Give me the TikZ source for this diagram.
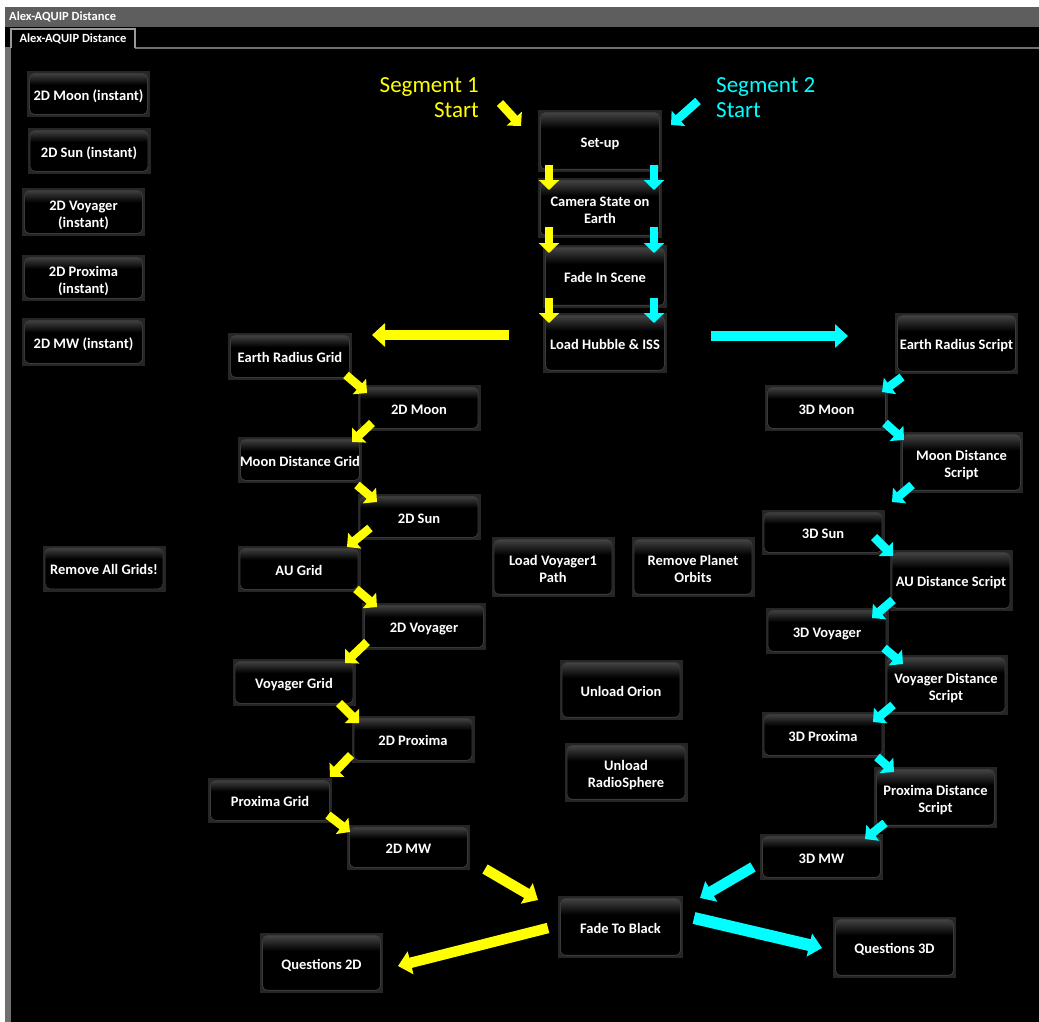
\documentclass[tikz,border=0pt]{standalone}
\usepackage{fontspec}
\setmainfont{Carlito}
\usetikzlibrary{arrows.meta}

\definecolor{ylw}{HTML}{FFFF00}
\definecolor{cyn}{HTML}{00FFFF}
\definecolor{titlebar}{HTML}{5E5E5E}
\definecolor{sidebar}{HTML}{707070}
\definecolor{btnframe}{HTML}{262626}
\definecolor{btntop}{HTML}{4E4E4E}
\definecolor{btnbot}{HTML}{2C2C2C}
\definecolor{btnrim}{HTML}{3A3A3A}

% glossy button face: light at the top, black in the middle, faint glow at the bottom
\pgfdeclareverticalshading{btnshade}{100bp}{color(0bp)=(btnbot); color(25bp)=(btnbot); color(29bp)=(black); color(60bp)=(black); color(75bp)=(btntop); color(100bp)=(btntop)}

\tikzset{
  btn/.style={fill=btnframe, minimum width=123, minimum height=46, inner sep=0pt,
    align=center, text=white, font=\bfseries\fontsize{14.5}{17}\selectfont,
    % fixed text box: the caption sits a little below the middle
    text height=16.5pt, text depth=4pt,
    path picture={
      \shade[shading=btnshade, draw=btnrim, line width=0.8pt, rounded corners=5pt]
        ([shift={(2.5pt,-2.5pt)}]path picture bounding box.north west) rectangle
        ([shift={(-2.5pt,2.5pt)}]path picture bounding box.south east);
    }},
  btntwo/.style={btn, minimum height=60, text height=30.5pt, text depth=0pt},
  ysmall/.style={draw=ylw, line width=8.5pt, -{Triangle[width=20pt,length=10pt]}},
  csmall/.style={draw=cyn, line width=8.5pt, -{Triangle[width=20pt,length=10pt]}},
  ybig/.style={draw=ylw, line width=10.5pt, -{Triangle[width=23pt,length=13pt]}},
  cbig/.style={draw=cyn, line width=10.5pt, -{Triangle[width=23pt,length=13pt]}},
  seglabel/.style={font=\fontsize{23}{25}\selectfont, inner sep=0pt},
}

\begin{document}
\begin{tikzpicture}[x=1pt,y=-1pt]
\useasboundingbox (0,0) rectangle (1039,1022);
% window frame
\fill[white] (0,0) rectangle (1039,1022);
\fill[titlebar] (5,7) rectangle (1039,27);
\fill[black] (5,27) rectangle (1039,1022);
\fill[sidebar] (5,47) rectangle (11,1022);
\draw[sidebar, line width=2pt] (135,48) -- (1039,48);
\draw[gray!80, line width=1.2pt, fill=black] (11,48) -- (11,29) -- (135,29) -- (135,48);
\node[anchor=west, text=white, font=\bfseries\fontsize{12.5}{14}\selectfont, inner sep=0pt] (wintitle) at (9,17) {Alex-AQUIP Distance};
\node[text=white, font=\bfseries\fontsize{12.5}{14}\selectfont, inner sep=0pt] (tabtitle) at (73,39) {Alex-AQUIP Distance};

% instant buttons and grid removal
\node[btn] (moonI) at (88.5,94) {2D Moon (instant)};
\node[btn] (sunI) at (89,151) {2D Sun (instant)};
\node[btntwo, minimum height=48] (voyI) at (83.5,212) {2D Voyager\\(instant)};
\node[btntwo, minimum height=46] (proxI) at (83.5,278) {2D Proxima\\(instant)};
\node[btn, minimum height=48] (mwI) at (83.5,342) {2D MW (instant)};
\node[btn] (rmGrids) at (104,568.5) {Remove All Grids!};

% segment labels
\node[seglabel, text=ylw, align=right, anchor=east] (seg1) at (479,98) {Segment 1\\Start};
\node[seglabel, text=cyn, align=left, anchor=west] (seg2) at (716,98) {Segment 2\\Start};

% shared start-up chain
\node[btn, minimum height=62, minimum width=124] (setup) at (600,141) {Set-up};
\node[btntwo, minimum width=124] (cam) at (600,208) {Camera State on\\Earth};
\node[btn, minimum height=63, minimum width=124] (fis) at (605,276.5) {Fade In Scene};
\node[btn, minimum height=60, minimum width=124] (lhi) at (605,343) {Load Hubble \& ISS};

% segment 1 (2D) chain
\node[btn, minimum width=124, minimum height=47] (erg) at (290,356.5) {Earth Radius Grid};
\node[btn] (m2d) at (419,408) {2D Moon};
\node[btn, minimum width=124] (mdg) at (300,460) {Moon Distance Grid};
\node[btn] (s2d) at (419,517) {2D Sun};
\node[btn] (aug) at (299,569) {AU Grid};
\node[btn, minimum width=124, minimum height=47] (v2d) at (424,626.5) {2D Voyager};
\node[btn, minimum height=47] (vg) at (294,682.5) {Voyager Grid};
\node[btn, minimum height=47] (p2d) at (413,739.5) {2D Proxima};
\node[btn, minimum width=124, minimum height=45] (pg) at (270,800.5) {Proxima Grid};
\node[btn, minimum height=45] (mw2d) at (408.5,847.5) {2D MW};
\node[btn, minimum height=60] (q2d) at (321.5,963) {Questions 2D};

% free-standing middle buttons
\node[btntwo] (lv1) at (553,567) {Load Voyager1\\Path};
\node[btntwo] (rpo) at (693,567) {Remove Planet\\Orbits};
\node[btn, minimum height=60] (uo) at (621,690) {Unload Orion};
\node[btntwo, minimum height=59] (urs) at (626,772.5) {Unload\\RadioSphere};
\node[btn, minimum width=125, minimum height=62] (ftb) at (620.5,927) {Fade To Black};

% segment 2 (3D) chain
\node[btn, minimum height=61] (ers) at (956.5,343.5) {Earth Radius Script};
\node[btn] (m3d) at (826.5,408) {3D Moon};
\node[btntwo, minimum height=61] (mds) at (961.5,462.5) {Moon Distance\\Script};
\node[btn, minimum height=45] (s3d) at (823,532.5) {3D Sun};
\node[btn, minimum height=61] (ads) at (951,580.5) {AU Distance Script};
\node[btn] (v3d) at (827,631) {3D Voyager};
\node[btntwo] (vds) at (946,685) {Voyager Distance\\Script};
\node[btn] (p3d) at (823,735) {3D Proxima};
\node[btntwo, minimum height=61] (pds) at (935.5,797.5) {Proxima Distance\\Script};
\node[btn] (mw3d) at (821.5,857) {3D MW};
\node[btn, minimum height=61] (q3d) at (894.5,947.5) {Questions 3D};

% start arrows
\draw[ysmall] ([shift={(21,5)}]seg1.east) -- ([shift={(-79,-15)}]setup.center);
\draw[csmall] ([shift={(-18,3)}]seg2.west) -- ([shift={(71,-16)}]setup.center);

% start-up chain, both segments
\draw[ysmall] ([shift={(-51,24)}]setup.center) -- ([shift={(-51,-18)}]cam.center);
\draw[csmall] ([shift={(54,24)}]setup.center) -- ([shift={(54,-18)}]cam.center);
\draw[ysmall] ([shift={(-51,19)}]cam.center) -- ([shift={(-56,-23.5)}]fis.center);
\draw[csmall] ([shift={(54,19)}]cam.center) -- ([shift={(49,-23.5)}]fis.center);
\draw[ysmall] ([shift={(-56,21.5)}]fis.center) -- ([shift={(-56,-20)}]lhi.center);
\draw[csmall] ([shift={(49,21.5)}]fis.center) -- ([shift={(49,-20)}]lhi.center);

% branching to the two segments
\draw[ybig] ([shift={(-96,-8)}]lhi.center) -- ([shift={(82,-21.5)}]erg.center);
\draw[cbig] ([shift={(106,-7)}]lhi.center) -- ([shift={(-108.5,-7.5)}]ers.center);

% segment 1 steps
\draw[ysmall] ([shift={(56,18.5)}]erg.center) -- ([shift={(-52,-15)}]m2d.center);
\draw[ysmall] ([shift={(-47,15)}]m2d.center) -- ([shift={(52,-18)}]mdg.center);
\draw[ysmall] ([shift={(57,25)}]mdg.center) -- ([shift={(-42,-15)}]s2d.center);
\draw[ysmall] ([shift={(-49,11)}]s2d.center) -- ([shift={(48,-22)}]aug.center);
\draw[ysmall] ([shift={(57,20)}]aug.center) -- ([shift={(-47,-19.5)}]v2d.center);
\draw[ysmall] ([shift={(-57,15.5)}]v2d.center) -- ([shift={(51,-19.5)}]vg.center);
\draw[ysmall] ([shift={(45,20.5)}]vg.center) -- ([shift={(-54,-16.5)}]p2d.center);
\draw[ysmall] ([shift={(-62,15.5)}]p2d.center) -- ([shift={(60,-23.5)}]pg.center);
\draw[ysmall] ([shift={(58,14.5)}]pg.center) -- ([shift={(-58.5,-15.5)}]mw2d.center);

% segment 2 steps
\draw[csmall] ([shift={(-54.5,33.5)}]ers.center) -- ([shift={(55.5,-16)}]m3d.center);
\draw[csmall] ([shift={(58.5,15)}]m3d.center) -- ([shift={(-57.5,-22.5)}]mds.center);
\draw[csmall] ([shift={(-49.5,22.5)}]mds.center) -- ([shift={(69,-30.5)}]s3d.center);
\draw[csmall] ([shift={(51,4.5)}]s3d.center) -- ([shift={(-58,-24.5)}]ads.center);
\draw[csmall] ([shift={(-58,19.5)}]ads.center) -- ([shift={(45,-13)}]v3d.center);
\draw[csmall] ([shift={(57,17)}]v3d.center) -- ([shift={(-43,-21)}]vds.center);
\draw[csmall] ([shift={(-53,20)}]vds.center) -- ([shift={(50,-13)}]p3d.center);
\draw[csmall] ([shift={(54,22)}]p3d.center) -- ([shift={(-41.5,-25.5)}]pds.center);
\draw[csmall] ([shift={(-50.5,25.5)}]pds.center) -- ([shift={(43.5,-18)}]mw3d.center);

% closing
\draw[ybig] ([shift={(76.5,21.5)}]mw2d.center) -- ([shift={(-82.5,-27)}]ftb.center);
\draw[cbig] ([shift={(-68.5,10)}]mw3d.center) -- ([shift={(79.5,-29)}]ftb.center);
\draw[ybig] ([shift={(-72.5,1)}]ftb.center) -- ([shift={(76.5,3)}]q2d.center);
\draw[cbig, line width=12pt] ([shift={(73.5,-9)}]ftb.center) -- ([shift={(-72.5,0.5)}]q3d.center);
\end{tikzpicture}
\end{document}
